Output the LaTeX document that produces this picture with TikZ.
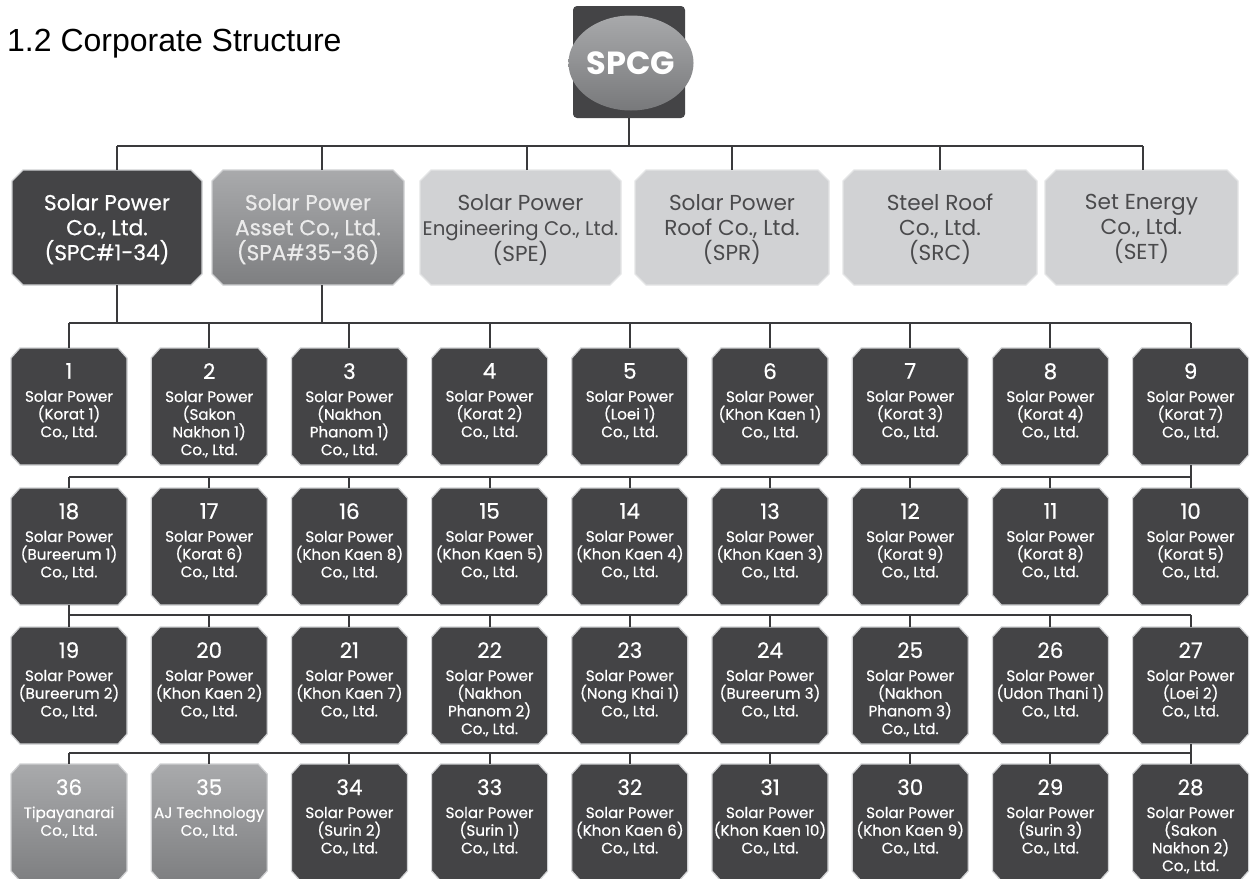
\documentclass[tikz,border=0pt]{standalone}
\usepackage{fontspec}
\setmainfont{Poppins}
\newfontfamily\medfont{Poppins}[FakeBold=0.6]
\newfontfamily\titlefont{Liberation Sans}
\usetikzlibrary{shapes.geometric}
\definecolor{dk}{HTML}{444446}
\definecolor{edge}{HTML}{CFD0D2}
\definecolor{lt}{HTML}{D1D2D4}
\definecolor{ltedge}{HTML}{E4E5E6}
\definecolor{ltx}{HTML}{4A4A4C}
\definecolor{gtop}{HTML}{A9AAAC}
\definecolor{gbot}{HTML}{7E7F81}
\definecolor{ctop}{HTML}{A8A9AB}
\definecolor{cbot}{HTML}{78797B}
\definecolor{ln}{HTML}{3A3A3C}
\newlength\wsp
% chamfered outline around a named rectangle node
\newcommand\chf[4]{\path[#1] ([xshift=#3]#2.north west) -- ([xshift=-#3]#2.north east)
  -- ([yshift=-#4]#2.north east) -- ([yshift=#4]#2.south east)
  -- ([xshift=-#3]#2.south east) -- ([xshift=#3]#2.south west)
  -- ([yshift=#4]#2.south west) -- ([yshift=-#4]#2.north west) -- cycle;}
\newcommand\cb[5]{%
  \node[sbox, anchor=north] (#1) at ({69+140.2*#2},#3) {};
  \chf{#4}{#1}{9pt}{10pt}
  \node[st, anchor=north] (#1t) at ([yshift=-15pt]#1.north) {#5};
}
\newcommand\nm[1]{{\fontsize{\szN pt}{\szN pt}\selectfont #1}\\[5.3pt]}
\begin{document}
\settowidth\wsp{\fontsize{10pt}{12pt}\selectfont Solar Power}%
\pgfmathsetmacro\szS{880/\wsp}%
\pgfmathsetmacro\szL{1260/\wsp}%
\pgfmathsetmacro\szE{0.91*\szL}%
\pgfmathsetmacro\szN{1.42*\szS}%
\begin{tikzpicture}[x=1pt,y=-1pt,
  conn/.style={draw=ln, line width=2pt},
  sbox/.style={rectangle, minimum width=116pt, minimum height=117pt, inner sep=0pt, outer sep=0pt},
  tbox/.style={rectangle, minimum height=115pt, inner sep=0pt, outer sep=0pt},
  fdark/.style={fill=dk, draw=edge, line width=1.2pt},
  fgray/.style={top color=gtop, bottom color=gbot, draw=edge, line width=1.2pt},
  flight/.style={fill=lt, draw=ltedge, line width=1.2pt},
  st/.style={text=white, align=center, inner sep=0pt, font=\medfont\fontsize{\szS pt}{17.7pt}\selectfont},
  tt/.style={text=white, align=center, inner sep=0pt, font=\medfont\fontsize{\szL pt}{25pt}\selectfont},
  tlt/.style={text=ltx, align=center, inner sep=0pt, font=\fontsize{\szL pt}{25pt}\selectfont}]
\useasboundingbox (0,0) rectangle (1250,878);
\clip (0,0) rectangle (1250,878);
\fill[white] (0,0) rectangle (1250,878);

% title
\node[anchor=base west, inner sep=0pt, font=\titlefont\fontsize{32pt}{38pt}\selectfont] (title) at (7,51) {1.2 Corporate Structure};

% SPCG
\node[rectangle, rounded corners=4pt, fill=dk, minimum width=112pt, minimum height=112pt, inner sep=0pt] (spcg) at (629,62) {};
\node[ellipse, minimum width=101pt, minimum height=95pt, inner sep=0pt, top color=ctop, bottom color=cbot, text=white,
  font=\bfseries\fontsize{32pt}{32pt}\selectfont] (spcgc) at (631,63) {SPCG};

% top row
\node[tbox, minimum width=190pt] (spc) at (107,227.5) {};
\chf{fdark}{spc}{11pt}{11pt}
\node[tt, anchor=north] (spct) at ([yshift=-24pt]spc.north) {Solar Power\\Co., Ltd.\\(SPC\#1-34)};
\node[tbox, minimum width=192pt] (spa) at (308,227.5) {};
\chf{fgray}{spa}{11pt}{11pt}
\node[tt, anchor=north, text=white!92!black] (spat) at ([yshift=-24pt]spa.north) {Solar Power\\Asset Co., Ltd.\\(SPA\#35-36)};
\node[tbox, minimum width=201pt] (spe) at (520.5,227.5) {};
\chf{flight}{spe}{11pt}{11pt}
\node[tlt, anchor=north] (spet) at ([yshift=-24pt]spe.north) {Solar Power\\{\fontsize{\szE pt}{25pt}\selectfont Engineering Co., Ltd.}\\(SPE)};
\node[tbox, minimum width=194pt] (spr) at (732,227.5) {};
\chf{flight}{spr}{11pt}{11pt}
\node[tlt, anchor=north] (sprt) at ([yshift=-24pt]spr.north) {Solar Power\\Roof Co., Ltd.\\(SPR)};
\node[tbox, minimum width=194pt] (src) at (940,227.5) {};
\chf{flight}{src}{11pt}{11pt}
\node[tlt, anchor=north] (srct) at ([yshift=-24pt]src.north) {Steel Roof\\Co., Ltd.\\(SRC)};
\node[tbox, minimum width=193pt] (nset) at (1141.5,227.5) {};
\chf{flight}{nset}{11pt}{11pt}
\node[tlt, anchor=north] (nsett) at ([yshift=-24pt]nset.north) {Set Energy\\Co., Ltd.\\(SET)};

% row 1
\cb{b1}{0}{348}{fdark}{\nm{1}Solar Power\\(Korat 1)\\Co., Ltd.}
\cb{b2}{1}{348}{fdark}{\nm{2}Solar Power\\(Sakon\\Nakhon 1)\\Co., Ltd.}
\cb{b3}{2}{348}{fdark}{\nm{3}Solar Power\\(Nakhon\\Phanom 1)\\Co., Ltd.}
\cb{b4}{3}{348}{fdark}{\nm{4}Solar Power\\(Korat 2)\\Co., Ltd.}
\cb{b5}{4}{348}{fdark}{\nm{5}Solar Power\\(Loei 1)\\Co., Ltd.}
\cb{b6}{5}{348}{fdark}{\nm{6}Solar Power\\(Khon Kaen 1)\\Co., Ltd.}
\cb{b7}{6}{348}{fdark}{\nm{7}Solar Power\\(Korat 3)\\Co., Ltd.}
\cb{b8}{7}{348}{fdark}{\nm{8}Solar Power\\(Korat 4)\\Co., Ltd.}
\cb{b9}{8}{348}{fdark}{\nm{9}Solar Power\\(Korat 7)\\Co., Ltd.}
% row 2
\cb{b18}{0}{488}{fdark}{\nm{18}Solar Power\\(Bureerum 1)\\Co., Ltd.}
\cb{b17}{1}{488}{fdark}{\nm{17}Solar Power\\(Korat 6)\\Co., Ltd.}
\cb{b16}{2}{488}{fdark}{\nm{16}Solar Power\\(Khon Kaen 8)\\Co., Ltd.}
\cb{b15}{3}{488}{fdark}{\nm{15}Solar Power\\(Khon Kaen 5)\\Co., Ltd.}
\cb{b14}{4}{488}{fdark}{\nm{14}Solar Power\\(Khon Kaen 4)\\Co., Ltd.}
\cb{b13}{5}{488}{fdark}{\nm{13}Solar Power\\(Khon Kaen 3)\\Co., Ltd.}
\cb{b12}{6}{488}{fdark}{\nm{12}Solar Power\\(Korat 9)\\Co., Ltd.}
\cb{b11}{7}{488}{fdark}{\nm{11}Solar Power\\(Korat 8)\\Co., Ltd.}
\cb{b10}{8}{488}{fdark}{\nm{10}Solar Power\\(Korat 5)\\Co., Ltd.}
% row 3
\cb{b19}{0}{627}{fdark}{\nm{19}Solar Power\\(Bureerum 2)\\Co., Ltd.}
\cb{b20}{1}{627}{fdark}{\nm{20}Solar Power\\(Khon Kaen 2)\\Co., Ltd.}
\cb{b21}{2}{627}{fdark}{\nm{21}Solar Power\\(Khon Kaen 7)\\Co., Ltd.}
\cb{b22}{3}{627}{fdark}{\nm{22}Solar Power\\(Nakhon\\Phanom 2)\\Co., Ltd.}
\cb{b23}{4}{627}{fdark}{\nm{23}Solar Power\\(Nong Khai 1)\\Co., Ltd.}
\cb{b24}{5}{627}{fdark}{\nm{24}Solar Power\\(Bureerum 3)\\Co., Ltd.}
\cb{b25}{6}{627}{fdark}{\nm{25}Solar Power\\(Nakhon\\Phanom 3)\\Co., Ltd.}
\cb{b26}{7}{627}{fdark}{\nm{26}Solar Power\\(Udon Thani 1)\\Co., Ltd.}
\cb{b27}{8}{627}{fdark}{\nm{27}Solar Power\\(Loei 2)\\Co., Ltd.}
% row 4
\cb{b36}{0}{764}{fgray}{\nm{36}Tipayanarai\\Co., Ltd.}
\cb{b35}{1}{764}{fgray}{\nm{35}AJ Technology\\Co., Ltd.}
\cb{b34}{2}{764}{fdark}{\nm{34}Solar Power\\(Surin 2)\\Co., Ltd.}
\cb{b33}{3}{764}{fdark}{\nm{33}Solar Power\\(Surin 1)\\Co., Ltd.}
\cb{b32}{4}{764}{fdark}{\nm{32}Solar Power\\(Khon Kaen 6)\\Co., Ltd.}
\cb{b31}{5}{764}{fdark}{\nm{31}Solar Power\\(Khon Kaen 10)\\Co., Ltd.}
\cb{b30}{6}{764}{fdark}{\nm{30}Solar Power\\(Khon Kaen 9)\\Co., Ltd.}
\cb{b29}{7}{764}{fdark}{\nm{29}Solar Power\\(Surin 3)\\Co., Ltd.}
\cb{b28}{8}{764}{fdark}{\nm{28}Solar Power\\(Sakon\\Nakhon 2)\\Co., Ltd.}

% bus levels
\coordinate (y0) at (0,146);
\coordinate (y1) at (0,323);
\coordinate (y2) at (0,477);
\coordinate (y3) at (0,615);
\coordinate (y4) at (0,753);

% connectors: SPCG to subsidiaries
\draw[conn] (spcg.south) -- (spcg.south |- y0);
\draw[conn] ([xshift=10pt]spc.north |- y0) -- ([xshift=1.5pt]nset.north |- y0);
\foreach \n/\s in {spc/10,spa/14,spe/6.5,spr/0,src/0,nset/1.5}
  \draw[conn] ([xshift=\s pt]\n.north) -- ([xshift=\s pt]\n.north |- y0);
% SPC / SPA to plants
\draw[conn] ([xshift=10pt]spc.south) -- ([xshift=10pt]spc.south |- y1);
\draw[conn] ([xshift=14pt]spa.south) -- ([xshift=14pt]spa.south |- y1);
\draw[conn] (b1.north |- y1) -- (b9.north |- y1);
\foreach \i in {1,...,9} \draw[conn] (b\i.north) -- (b\i.north |- y1);
% row 1 -> row 2
\draw[conn] (b9.south) -- (b9.south |- y2);
\draw[conn] (b18.north |- y2) -- (b10.north |- y2);
\foreach \i in {10,...,18} \draw[conn] (b\i.north) -- (b\i.north |- y2);
% row 2 -> row 3
\draw[conn] (b18.south) -- (b18.south |- y3);
\draw[conn] (b19.north |- y3) -- (b27.north |- y3);
\foreach \i in {19,...,27} \draw[conn] (b\i.north) -- (b\i.north |- y3);
% row 3 -> row 4
\draw[conn] (b27.south) -- (b27.south |- y4);
\draw[conn] (b36.north |- y4) -- (b28.north |- y4);
\foreach \i in {28,...,36} \draw[conn] (b\i.north) -- (b\i.north |- y4);
\end{tikzpicture}
\end{document}
